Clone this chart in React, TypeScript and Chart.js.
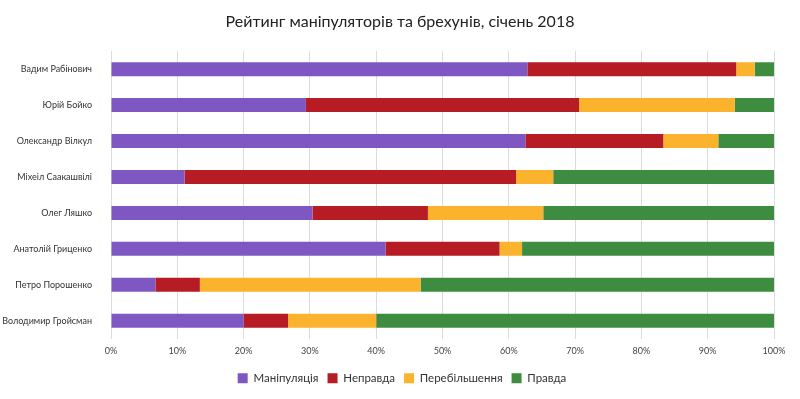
import React, { useEffect, useRef } from "react";
import { Chart, registerables } from "chart.js";

Chart.register(...registerables);

const categories = [
  "Вадим Рабінович",
  "Юрій Бойко",
  "Олександр Вілкул",
  "Міхеіл Саакашвілі",
  "Олег Ляшко",
  "Анатолій Гриценко",
  "Петро Порошенко",
  "Володимир Гройсман",
];

const manipulation = [62.8, 29.4, 62.5, 11.1, 30.4, 41.4, 6.7, 20.0];
const falsehood = [31.5, 41.2, 20.8, 50.0, 17.4, 17.2, 6.7, 6.7];
const exaggeration = [2.8, 23.5, 8.3, 5.6, 17.4, 3.4, 33.3, 13.3];
const truth = [2.9, 5.9, 8.4, 33.3, 34.8, 38.0, 53.3, 60.0];

const seriesNames = ["Маніпуляція", "Неправда", "Перебільшення", "Правда"];
const seriesColors = ["#7E57C2", "#B71C24", "#FBB22C", "#3D8C40"];

const title = "Рейтинг маніпуляторів та брехунів, січень 2018";
const FONT = "Lato, 'Open Sans', sans-serif";

const centerShift = {
  id: "centerShift",
  afterLayout(chart: any) {
    const shift = (box: any, dx: number) => {
      if (!box) return;
      box.left += dx;
      box.right += dx;
    };
    shift(chart.titleBlock, 13);
    shift(chart.legend, 15);
  },
};

export default function App() {
  const ref = useRef<HTMLCanvasElement | null>(null);
  useEffect(() => {
    if (!ref.current) return;
    const values = [manipulation, falsehood, exaggeration, truth];
    const chart = new Chart(ref.current, {
      type: "bar",
      data: {
        labels: categories,
        datasets: values.map((v, i) => ({
          label: seriesNames[i],
          data: v,
          backgroundColor: seriesColors[i],
          borderWidth: 0,
          barPercentage: 0.78,
          categoryPercentage: 0.5,
        })),
      },
      plugins: [centerShift],
      options: {
        indexAxis: "y",
        animation: false,
        responsive: true,
        maintainAspectRatio: false,
        layout: { padding: { left: 0, right: 26, top: 4, bottom: 5 } },
        scales: {
          x: {
            stacked: true,
            min: 0,
            max: 100,
            ticks: {
              stepSize: 10,
              callback: (v: any) => v + "%",
              color: "#444",
              font: { family: FONT, size: 9 },
              padding: 7,
            },
            grid: { color: "#dcdcdc", drawTicks: false },
            border: { display: false },
          },
          y: {
            stacked: true,
            afterFit: (scale: any) => {
              scale.width = 111;
            },
            ticks: {
              color: "#333",
              font: { family: FONT, size: 9 },
              padding: 11,
            },
            grid: { display: false },
            border: { display: false },
          },
        },
        plugins: {
          title: {
            display: true,
            text: title,
            color: "#222",
            font: { family: FONT, size: 16, weight: "normal" },
            padding: { top: 8, bottom: 20 },
          },
          legend: {
            position: "bottom",
            labels: {
              boxWidth: 10,
              boxHeight: 10,
              color: "#333",
              font: { family: FONT, size: 11.5 },
              padding: 9,
            },
          },
          tooltip: { enabled: false },
        },
      },
    });
    return () => chart.destroy();
  }, []);
  return (
    <div style={{ position: "fixed", left: 0, top: 0, width: 800, height: 399, background: "#fff" }}>
      <canvas ref={ref} />
    </div>
  );
}
